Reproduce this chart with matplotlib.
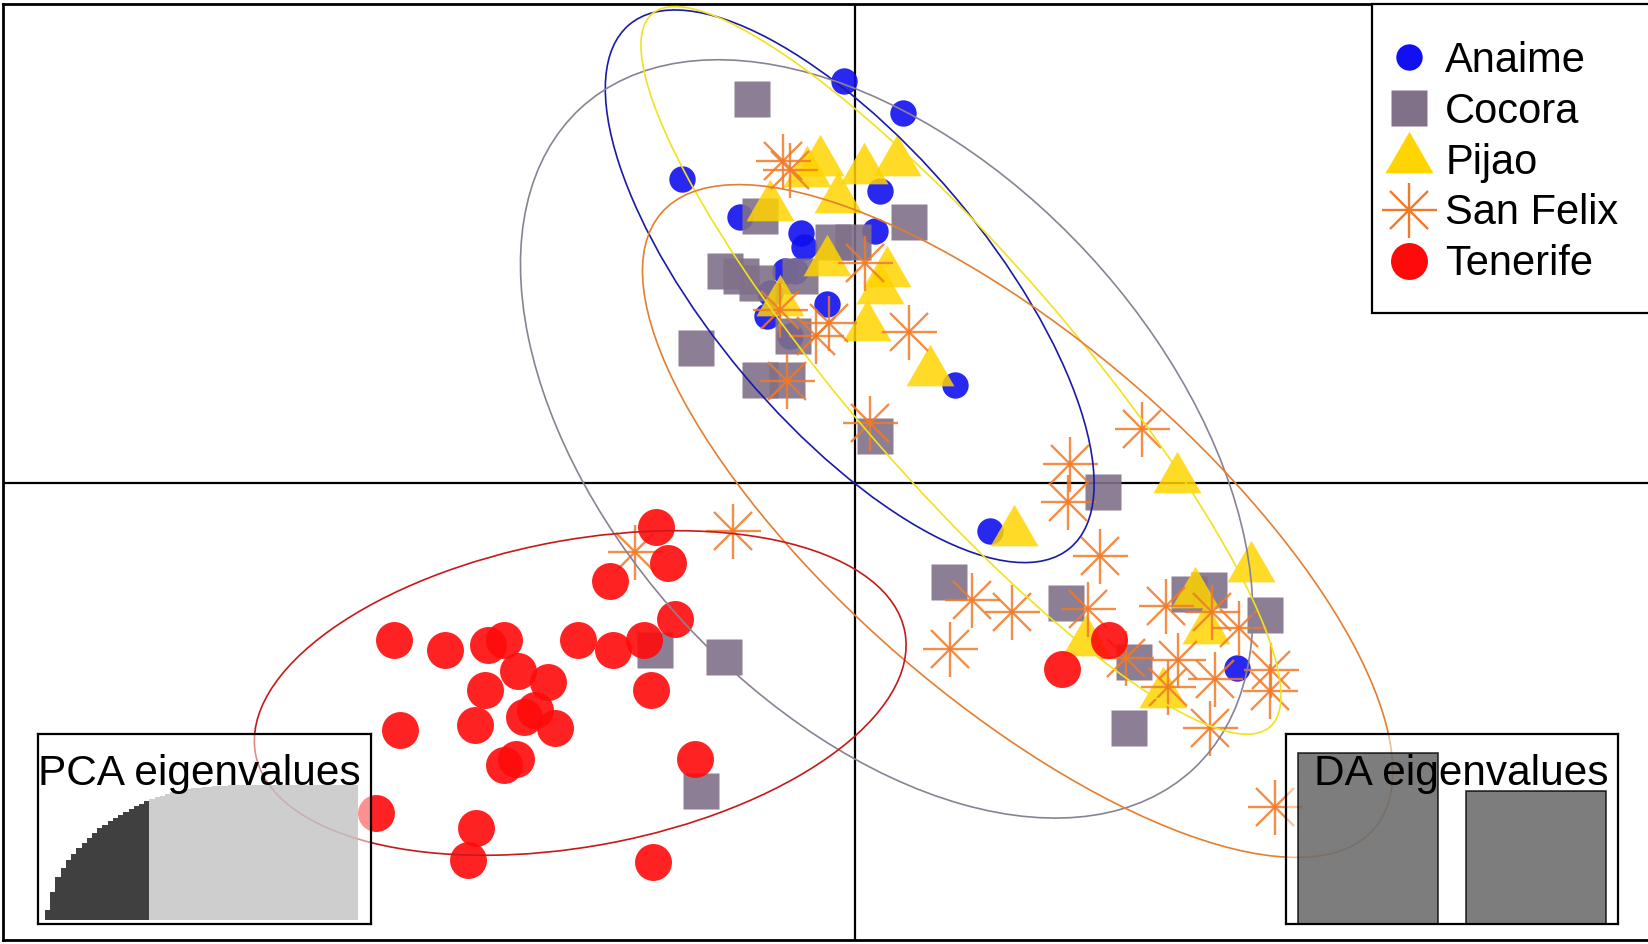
import numpy as np
import matplotlib
matplotlib.use("Agg")
import matplotlib.pyplot as plt
from matplotlib.patches import Ellipse, Rectangle
from matplotlib.lines import Line2D
from matplotlib.legend_handler import HandlerTuple

plt.rcParams['font.family'] = ['Liberation Sans', 'DejaVu Sans']

# discriminant scores (LD1, LD2) per population
anaime_ld1 = [-0.10, 0.46, -1.64, 0.24, -1.09, -0.51, -0.48, -0.67, -0.57, 0.19, -0.81, -0.27, -0.84, -0.62, 0.95, 1.28, 3.63]
anaime_ld2 = [3.82, 3.52, 2.89, 2.78, 2.53, 2.38, 2.25, 2.02, 2.02, 2.40, 1.81, 1.70, 1.59, 1.40, 0.93, -0.45, -1.76]

cocora_ld1 = [-0.98, 0.51, -0.90, -1.24, -1.08, -0.93, -0.21, -0.02, -0.52, -1.51, -0.59, -0.90, -0.65, 0.19,
              2.36, 0.89, 2.01, 2.65, 2.61, 3.18, 3.37, 3.90, -1.90, -1.25, -1.46]
cocora_ld2 = [3.65, 2.48, 2.54, 2.02, 1.97, 1.90, 2.29, 2.29, 1.97, 1.29, 1.40, 0.98, 0.98, 0.45,
              -0.08, -0.94, -1.14, -1.70, -2.33, -1.05, -1.02, -1.25, -1.59, -1.65, -2.93]

pijao_ld1 = [-0.33, 0.09, 0.40, -0.46, -0.81, -0.16, -0.27, 0.30, 0.24, 0.11, 0.71, -0.71, 1.51, 3.06, 3.77, 3.23, 3.34, 2.20, 2.93]
pijao_ld2 = [3.05, 2.98, 3.05, 2.95, 2.63, 2.70, 2.10, 2.00, 1.84, 1.49, 1.06, 1.72, -0.46, 0.04, -0.81, -1.05, -1.40, -1.51, -2.00]

sanfelix_ld1 = [-0.68, -0.62, -0.71, -0.37, -0.25, 0.10, 0.51, -0.65, 0.14, 2.73, 2.04, 2.03, 2.33, 1.11, 1.49,
                0.90, 2.22, 2.96, 3.39, 3.65, 2.58, 3.07, 3.42, 2.98, 3.96, 3.95, 3.38, -2.09, -1.16, 3.99]
sanfelix_ld2 = [3.06, 2.98, 1.65, 1.40, 1.52, 2.09, 1.44, 0.97, 0.57, 0.52, 0.18, -0.18, -0.69, -1.11, -1.22,
                -1.58, -1.20, -1.17, -1.22, -1.38, -1.66, -1.68, -1.86, -1.94, -1.78, -1.98, -2.33, -0.65, -0.45, -3.08]

tenerife_ld1 = [-1.89, -1.78, -2.33, -1.71, -2.01, -2.30, -2.63, -4.38, -3.90, -3.49, -3.34, -3.20, -2.92, -3.52, -1.94,
                -4.33, -3.61, -3.15, -3.04, -2.85, -3.34, -3.22, -1.52, -4.55, -3.60, -3.68, -1.92, 2.42, 1.97]
tenerife_ld2 = [-0.42, -0.76, -0.93, -1.29, -1.49, -1.59, -1.49, -1.49, -1.59, -1.54, -1.49, -1.79, -1.89, -1.97, -1.97,
                -2.35, -2.30, -2.22, -2.16, -2.33, -2.68, -2.62, -2.62, -3.14, -3.28, -3.58, -3.60, -1.49, -1.77]

groups = ["Anaime", "Cocora", "Pijao", "San Felix", "Tenerife"]

# cumulative PCA variance (%) and retained PCs
pca_cumvar = [7.7, 21.1, 31.5, 38.4, 44.5, 48.8, 53.0, 57.0, 61.0, 64.5,
              67.9, 70.5, 73.0, 75.5, 77.9, 80.2, 82.5, 84.5, 86.2, 87.9,
              89.4, 90.8, 92.2, 93.5, 94.5, 95.4, 96.4, 97.2, 97.6, 98.0,
              98.5, 98.9, 99.3, 99.5, 99.6, 99.7, 99.8, 99.9, 99.9, 99.9,
              100.0, 100.0, 100.0, 100.0, 100.0, 100.0, 100.0, 100.0, 100.0, 100.0,
              100.0, 100.0, 100.0, 100.0, 100.0, 100.0, 100.0, 100.0, 100.0, 100.0]
n_pca_retained = 20

da_eig = [62.4, 48.7]

fill_cols = ['#1010f0', '#807088', '#ffd400', '#f07a28', '#ff0a0a']
ell_cols = ['#1a1aa8', '#8a8294', '#f2e21c', '#e47e30', '#c81818']
cellipse = 2.0

tri = [(0, 1), (-0.866, -0.5), (0.866, -0.5), (0, 1)]

fig = plt.figure(figsize=(16.49, 9.44), dpi=100)
ax = fig.add_axes([0.00212, 0.00424, 0.99968, 0.99205])
ax.set_xlim(-8.096, 7.578)
ax.set_ylim(-4.343, 4.561)
ax.set_xticks([])
ax.set_yticks([])
for s in ax.spines.values():
    s.set_linewidth(2.0)
    s.set_color('black')

ax.axhline(0, color='black', lw=1.6, zorder=1)
ax.axvline(0, color='black', lw=1.6, zorder=1)

xs = [anaime_ld1, cocora_ld1, pijao_ld1, sanfelix_ld1, tenerife_ld1]
ys = [anaime_ld2, cocora_ld2, pijao_ld2, sanfelix_ld2, tenerife_ld2]

handles = []
for i, name in enumerate(groups):
    x = np.array(xs[i])
    y = np.array(ys[i])
    c = fill_cols[i]
    if name == "Anaime":
        ax.plot(x, y, ls='none', marker='o', ms=19, mfc=c, mec='none', alpha=0.9, zorder=2)
        h = Line2D([], [], ls='none', marker='o', ms=19, mfc=c, mec='none')
    elif name == "Cocora":
        ax.plot(x, y, ls='none', marker='s', ms=26.6, mfc=c, mec='none', alpha=0.9, zorder=2)
        h = Line2D([], [], ls='none', marker='s', ms=26.6, mfc=c, mec='none')
    elif name == "Pijao":
        ax.plot(x, y, ls='none', marker=tri, ms=39.9, mfc=c, mec='none', alpha=0.85, zorder=2)
        h = Line2D([], [], ls='none', marker=tri, ms=39.9, mfc=c, mec='none')
    elif name == "San Felix":
        ax.plot(x, y, ls='none', marker='+', ms=39.6, mew=1.7, color=c, alpha=0.85, zorder=2)
        ax.plot(x, y, ls='none', marker='x', ms=28.0, mew=1.7, color=c, alpha=0.85, zorder=2)
        h = (Line2D([], [], ls='none', marker='+', ms=39.6, mew=1.7, color=c),
             Line2D([], [], ls='none', marker='x', ms=28.0, mew=1.7, color=c))
    else:
        ax.plot(x, y, ls='none', marker='o', ms=26.6, mfc=c, mec='none', alpha=0.9, zorder=2)
        h = Line2D([], [], ls='none', marker='o', ms=26.6, mfc=c, mec='none')
    handles.append(h)

    # inertia ellipse of the group
    cov = np.cov(np.vstack([x, y]), bias=True)
    vals, vecs = np.linalg.eigh(cov)
    order = vals.argsort()[::-1]
    vals, vecs = vals[order], vecs[:, order]
    angle = np.degrees(np.arctan2(vecs[1, 0], vecs[0, 0]))
    ell = Ellipse((x.mean(), y.mean()), 2 * cellipse * np.sqrt(vals[0]), 2 * cellipse * np.sqrt(vals[1]),
                  angle=angle, fill=False, ec=ell_cols[i], lw=1.2, zorder=3)
    ax.add_patch(ell)

# legend box, open on the right side
box = Rectangle((0.8318, 1 - 313.3 / 944), 0.2, (313.3 - 3.5) / 944,
                transform=fig.transFigure, fc='white', ec='black', lw=1.6, zorder=5, clip_on=False)
ax.add_patch(box)
leg = ax.legend(handles, groups, loc='upper left', bbox_to_anchor=(0.8368, 0.9567),
                bbox_transform=fig.transFigure, frameon=False, fontsize=30,
                handlelength=1.4, handletextpad=0.17, labelspacing=0.26,
                borderpad=0, borderaxespad=0, handler_map={tuple: HandlerTuple(ndivide=1)})
leg.set_zorder(6)

# PCA eigenvalues inset
ax_pca = fig.add_axes([0.02286, 0.02119, 0.20194, 0.20127])
ax_pca.set_facecolor((1, 1, 1, 0.5))
pcs = np.arange(1, len(pca_cumvar) + 1)
bar_cols = ['black' if k <= n_pca_retained else '#bebebe' for k in pcs]
ax_pca.bar(pcs, pca_cumvar, width=1.0, color=bar_cols, alpha=0.75, linewidth=0)
ax_pca.set_xlim(-0.9, 62.87)
ax_pca.set_ylim(-2.96, 137.8)
ax_pca.set_xticks([])
ax_pca.set_yticks([])
for s in ax_pca.spines.values():
    s.set_linewidth(1.6)
ax_pca.text(0.0, 0.7316, "PCA eigenvalues", transform=ax_pca.transAxes, fontsize=30.5,
            ha='left', va='baseline')

# DA eigenvalues inset
ax_da = fig.add_axes([0.77987, 0.02119, 0.20152, 0.20127])
ax_da.set_facecolor((1, 1, 1, 0.5))
ax_da.bar([0.7, 1.9], da_eig, width=1.0, color='#5c5c5c', alpha=0.8, edgecolor='black', linewidth=1.2)
ax_da.set_xlim(0.112, 2.488)
ax_da.set_ylim(0, da_eig[0] * 1.113)
ax_da.set_xticks([])
ax_da.set_yticks([])
for s in ax_da.spines.values():
    s.set_linewidth(1.6)
ax_da.text(0.083, 0.7316, "DA eigenvalues", transform=ax_da.transAxes, fontsize=30.5,
           ha='left', va='baseline')

fig.savefig("out.png", dpi=100)
